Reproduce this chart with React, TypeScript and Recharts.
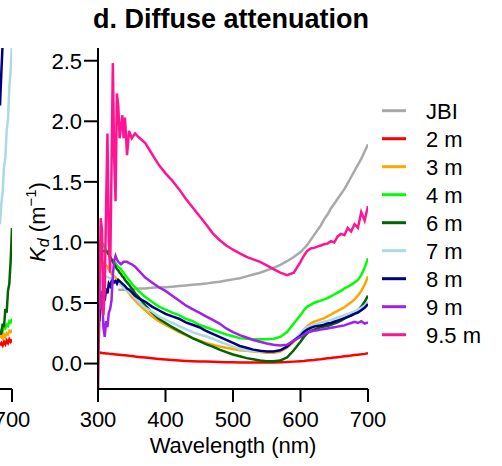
import { LineChart, Line, XAxis, YAxis } from "recharts";

const FONT = "'Liberation Sans', Arial, Helvetica, sans-serif";

// wavelength grid (nm): dense where the 9.5 m profile is noisy
const WAVELENGTH = [
  300, 302, 304, 306, 308, 310, 312, 314, 316, 318, 320, 322, 324, 326, 328, 330, 332, 334, 336, 338, 340,
  343, 346, 350, 355, 360,
  370, 380, 390, 400, 410, 420, 430, 440, 450, 460, 470, 480, 490, 500, 510, 520, 530, 540, 550, 560, 570, 580, 590,
  600, 605, 610, 615, 620, 625, 630, 635, 640, 645, 650, 655, 660, 665, 670, 675, 680, 685, 690, 695, 700,
];

const KD_JBI = [
  null, null, null, null, null, null, null, null, null, null, null, null, null, null, null, 0.61, 0.61, 0.61, 0.61, 0.61, 0.61,
  0.61, 0.61, 0.615, 0.615, 0.62,
  0.62, 0.625, 0.63, 0.63, 0.635, 0.64, 0.645, 0.65, 0.655, 0.66, 0.67, 0.675, 0.685, 0.695, 0.705, 0.72, 0.735, 0.75, 0.77, 0.79, 0.815, 0.845, 0.88,
  0.92, 0.95, 0.98, 1.02, 1.06, 1.1, 1.14, 1.19, 1.23, 1.28, 1.32, 1.36, 1.4, 1.44, 1.49, 1.54, 1.59, 1.64, 1.69, 1.75, 1.81,
];
const KD_2M = [
  null, 0.085, 0.09, 0.088, 0.086, 0.085, 0.084, 0.083, 0.082, 0.08, 0.079, 0.078, 0.077, 0.075, 0.074, 0.073, 0.072, 0.071, 0.07, 0.069, 0.068,
  0.066, 0.064, 0.062, 0.058, 0.055,
  0.05, 0.044, 0.038, 0.033, 0.029, 0.025, 0.022, 0.02, 0.018, 0.016, 0.014, 0.012, 0.011, 0.01, 0.009, 0.008, 0.008, 0.008, 0.008, 0.009, 0.01, 0.012, 0.016,
  0.02, 0.022, 0.025, 0.028, 0.03, 0.033, 0.036, 0.04, 0.043, 0.046, 0.05, 0.053, 0.056, 0.06, 0.063, 0.066, 0.07, 0.073, 0.076, 0.08, 0.085,
];
const KD_3M = [
  null, 0.72, 0.8, 0.84, 0.83, 0.82, 0.81, 0.8, 0.78, 0.76, 0.74, 0.73, 0.72, 0.71, 0.69, 0.68, 0.67, 0.66, 0.64, 0.63, 0.62,
  0.6, 0.58, 0.55, 0.52, 0.49,
  0.44, 0.39, 0.35, 0.32, 0.29, 0.26, 0.235, 0.21, 0.19, 0.17, 0.155, 0.14, 0.13, 0.12, 0.11, 0.105, 0.1, 0.095, 0.09, 0.09, 0.1, 0.13, 0.18,
  0.24, 0.28, 0.31, 0.33, 0.345, 0.355, 0.365, 0.375, 0.39, 0.405, 0.42, 0.435, 0.45, 0.465, 0.485, 0.505, 0.53, 0.56, 0.6, 0.65, 0.72,
];
const KD_4M = [
  0.97, 1.01, 1.01, 1.0, 0.98, 0.96, 0.94, 0.92, 0.9, 0.88, 0.86, 0.85, 0.84, 0.83, 0.81, 0.8, 0.79, 0.78, 0.76, 0.75, 0.73,
  0.71, 0.69, 0.66, 0.63, 0.6,
  0.55, 0.51, 0.47, 0.445, 0.42, 0.4, 0.37, 0.35, 0.32, 0.3, 0.28, 0.26, 0.24, 0.225, 0.21, 0.205, 0.2, 0.2, 0.2, 0.205, 0.22, 0.26, 0.33,
  0.4, 0.44, 0.47, 0.485, 0.5, 0.51, 0.52, 0.53, 0.54, 0.555, 0.57, 0.585, 0.6, 0.62, 0.635, 0.65, 0.67, 0.69, 0.73, 0.79, 0.87,
];
const KD_6M = [
  0.8, 0.88, 0.91, 0.92, 0.93, 0.93, 0.93, 0.92, 0.9, 0.88, 0.86, 0.84, 0.82, 0.8, 0.78, 0.77, 0.75, 0.74, 0.72, 0.71, 0.69,
  0.67, 0.65, 0.62, 0.58, 0.55,
  0.48, 0.42, 0.37, 0.335, 0.3, 0.27, 0.24, 0.21, 0.185, 0.16, 0.14, 0.115, 0.095, 0.075, 0.06, 0.045, 0.035, 0.025, 0.02, 0.02, 0.025, 0.05, 0.11,
  0.18, 0.22, 0.25, 0.27, 0.28, 0.29, 0.3, 0.305, 0.31, 0.32, 0.33, 0.34, 0.355, 0.37, 0.385, 0.4, 0.42, 0.44, 0.47, 0.51, 0.56,
];
const KD_7M = [
  0.12, 0.3, 0.55, 0.7, 0.73, 0.73, 0.72, 0.715, 0.71, 0.705, 0.7, 0.69, 0.685, 0.68, 0.67, 0.665, 0.655, 0.65, 0.64, 0.63, 0.62,
  0.605, 0.59, 0.57, 0.54, 0.51,
  0.46, 0.43, 0.39, 0.36, 0.335, 0.31, 0.285, 0.26, 0.24, 0.225, 0.205, 0.18, 0.16, 0.14, 0.12, 0.11, 0.105, 0.1, 0.1, 0.1, 0.11, 0.14, 0.19,
  0.25, 0.28, 0.3, 0.31, 0.32, 0.33, 0.34, 0.345, 0.35, 0.36, 0.37, 0.38, 0.39, 0.4, 0.41, 0.42, 0.43, 0.445, 0.46, 0.48, 0.51,
];
const KD_8M = [
  null, 0.35, 0.5, 0.45, 0.58, 0.52, 0.62, 0.58, 0.66, 0.64, 0.68, 0.69, 0.67, 0.68, 0.66, 0.69, 0.68, 0.67, 0.66, 0.65, 0.64,
  0.62, 0.61, 0.59, 0.56, 0.54,
  0.51, 0.47, 0.44, 0.41, 0.39, 0.37, 0.34, 0.32, 0.3, 0.27, 0.245, 0.22, 0.195, 0.17, 0.145, 0.13, 0.115, 0.105, 0.1, 0.1, 0.11, 0.14, 0.19,
  0.23, 0.26, 0.28, 0.295, 0.305, 0.31, 0.315, 0.32, 0.33, 0.335, 0.345, 0.355, 0.365, 0.375, 0.385, 0.395, 0.41, 0.42, 0.44, 0.46, 0.49,
];
const KD_9M = [
  0.65, 0.6, 0.45, 0.6, 0.3, 0.22, 0.35, 0.3, 0.42, 0.45, 0.52, 0.73, 0.85, 0.89, 0.86, 0.84, 0.83, 0.82, 0.83, 0.84, 0.84,
  0.84, 0.83, 0.82, 0.8, 0.77,
  0.71, 0.67, 0.63, 0.6, 0.56, 0.52, 0.48, 0.45, 0.42, 0.39, 0.36, 0.33, 0.29, 0.26, 0.235, 0.215, 0.195, 0.18, 0.165, 0.155, 0.15, 0.155, 0.19,
  0.22, 0.24, 0.255, 0.265, 0.27, 0.275, 0.28, 0.285, 0.29, 0.295, 0.3, 0.305, 0.31, 0.315, 0.325, 0.335, 0.345, 0.335, 0.35, 0.33, 0.34,
];
const KD_95M = [
  -0.25, 0.5, 1.2, 1.1, 0.4, 0.6, 1.3, 1.9, 1.0, 0.75, 1.6, 2.48, 1.7, 1.34, 2.23, 2.13, 1.86, 1.95, 2.05, 1.86, 2.03,
  1.72, 1.92, 1.86, 1.9, 1.87,
  1.82, 1.73, 1.64, 1.57, 1.51, 1.44, 1.36, 1.29, 1.22, 1.15, 1.075, 1.02, 0.975, 0.94, 0.91, 0.88, 0.86, 0.84, 0.81, 0.78, 0.75, 0.73, 0.75,
  0.84, 0.89, 0.93, 0.95, 0.955, 0.965, 0.975, 0.985, 0.99, 1.01, 1.0, 1.05, 1.07, 1.06, 1.12, 1.09, 1.15, 1.12, 1.25, 1.18, 1.3,
];

// right edge of the neighbouring panel (c), only its last few nm are in view
const PANEL_C_WAVELENGTH = [682, 684, 686, 688, 690, 692, 694, 696, 698, 700];
const PANEL_C_2M = [0.15, 0.17, 0.15, 0.18, 0.16, 0.19, 0.17, 0.2, 0.18, 0.2];
const PANEL_C_3M = [0.21, 0.23, 0.21, 0.24, 0.22, 0.25, 0.24, 0.27, 0.26, 0.28];
const PANEL_C_4M = [0.26, 0.28, 0.27, 0.3, 0.29, 0.32, 0.31, 0.35, 0.34, 0.37];
const PANEL_C_6M = [0.27, 0.24, 0.33, 0.3, 0.45, 0.42, 0.6, 0.66, 0.85, 1.12];
const PANEL_C_7M = [1.15, 1.32, 1.42, 1.62, 1.7, 1.92, 2.02, 2.28, 2.42, 2.65];
const PANEL_C_8M = [2.13, 2.4, 2.65, 2.8, 3.0, 3.1, 3.2, 3.3, 3.4, 3.5];

const X_TICKS = [300, 400, 500, 600, 700];
const Y_TICKS = [0, 0.5, 1, 1.5, 2, 2.5];
const Y_DOMAIN = [-0.21, 2.605];

const SERIES = [
  { key: "jbi", name: "JBI", color: "#a9a9a9", values: KD_JBI },
  { key: "m2", name: "2 m", color: "#ff0000", values: KD_2M },
  { key: "m3", name: "3 m", color: "#ffa500", values: KD_3M },
  { key: "m4", name: "4 m", color: "#00ff00", values: KD_4M },
  { key: "m6", name: "6 m", color: "#006400", values: KD_6M },
  { key: "m7", name: "7 m", color: "#add8e6", values: KD_7M },
  { key: "m8", name: "8 m", color: "#000080", values: KD_8M },
  { key: "m9", name: "9 m", color: "#a020f0", values: KD_9M },
  { key: "m95", name: "9.5 m", color: "#ff1493", values: KD_95M },
];

const PANEL_C_SERIES = [
  { key: "m2", color: "#ff0000", values: PANEL_C_2M },
  { key: "m3", color: "#ffa500", values: PANEL_C_3M },
  { key: "m4", color: "#00ff00", values: PANEL_C_4M },
  { key: "m6", color: "#006400", values: PANEL_C_6M },
  { key: "m7", color: "#add8e6", values: PANEL_C_7M },
  { key: "m8", color: "#000080", values: PANEL_C_8M },
];

const rows = WAVELENGTH.map((wl, i) => {
  const row: Record<string, number | null> = { wl };
  SERIES.forEach((s) => (row[s.key] = s.values[i]));
  return row;
});

const panelRows = PANEL_C_WAVELENGTH.map((wl, i) => {
  const row: Record<string, number | null> = { wl };
  PANEL_C_SERIES.forEach((s) => (row[s.key] = s.values[i]));
  return row;
});

const axisStroke = { stroke: "#000", strokeWidth: 2 };
const tickStyle = { fontSize: 22, fill: "#000", fontFamily: FONT };

export default function App() {
  return (
    <div style={{ position: "absolute", left: 0, top: 0, width: 502, height: 466, background: "#fff", overflow: "hidden", fontFamily: FONT }}>
      {/* neighbouring panel, cut off at the left edge */}
      <div style={{ position: "absolute", left: 0, top: 0 }}>
        <LineChart width={40} height={466} data={panelRows} margin={{ top: 48, right: 28, bottom: 47, left: 0 }}>
          <XAxis dataKey="wl" type="number" domain={[682, 700]} ticks={[700]} interval={0} allowDataOverflow
            height={30} tickSize={13} tickMargin={9} axisLine={axisStroke} tickLine={axisStroke} tick={tickStyle} />
          <XAxis xAxisId="top" dataKey="wl" type="number" domain={[682, 700]} orientation="top" height={0}
            tick={false} tickLine={false} axisLine={axisStroke} />
          <YAxis type="number" domain={Y_DOMAIN} allowDataOverflow hide />
          <YAxis yAxisId="right" orientation="right" width={0} type="number" domain={Y_DOMAIN}
            tick={false} tickLine={false} axisLine={axisStroke} />
          {PANEL_C_SERIES.map((s) => (
            <Line key={s.key} dataKey={s.key} stroke={s.color} strokeWidth={2.5} dot={false}
              type="linear" isAnimationActive={false} />
          ))}
        </LineChart>
      </div>

      {/* panel d */}
      <div style={{ position: "absolute", left: 0, top: 0 }}>
        <LineChart width={502} height={466} data={rows} margin={{ top: 48, right: 134, bottom: 47, left: 38 }}>
          <XAxis dataKey="wl" type="number" domain={[300, 700]} ticks={X_TICKS} interval={0} allowDataOverflow
            height={30} tickSize={13} tickMargin={9} axisLine={axisStroke} tickLine={axisStroke} tick={tickStyle} />
          <XAxis xAxisId="top" dataKey="wl" type="number" domain={[300, 700]} orientation="top" height={0}
            tick={false} tickLine={false} axisLine={axisStroke} />
          <YAxis type="number" domain={Y_DOMAIN} ticks={Y_TICKS} interval={0} allowDataOverflow width={60}
            tickSize={14} tickMargin={2} axisLine={axisStroke} tickLine={axisStroke} tick={tickStyle}
            tickFormatter={(v: number) => v.toFixed(1)} />
          <YAxis yAxisId="right" orientation="right" width={0} type="number" domain={Y_DOMAIN}
            tick={false} tickLine={false} axisLine={axisStroke} />
          {SERIES.map((s) => (
            <Line key={s.key} dataKey={s.key} name={s.name} stroke={s.color} strokeWidth={2.5} dot={false}
              type="linear" isAnimationActive={false} />
          ))}
        </LineChart>
      </div>

      {/* title, axis titles and legend */}
      <svg width={502} height={466} style={{ position: "absolute", left: 0, top: 0, pointerEvents: "none" }}>
        <text x={231} y={28} textAnchor="middle" fontSize={27} fontWeight="bold" fontFamily={FONT} fill="#000">
          d. Diffuse attenuation
        </text>
        <text x={233} y={453} textAnchor="middle" fontSize={22} fontFamily={FONT} fill="#000">
          Wavelength (nm)
        </text>
        <text transform="translate(45,222) rotate(-90)" textAnchor="middle" fontSize={22} fontFamily={FONT} fill="#000">
          <tspan fontStyle="italic">K</tspan>
          <tspan fontStyle="italic" fontSize={16} dy={4}>d</tspan>
          <tspan dy={-4}> (m</tspan>
          <tspan fontSize={15} dy={-9}>−1</tspan>
          <tspan dy={9}>)</tspan>
        </text>
        {SERIES.map((s, i) => {
          const cy = 110.7 + i * 28;
          return (
            <g key={s.key}>
              <line x1={382} x2={406} y1={cy} y2={cy} stroke={s.color} strokeWidth={3} />
              <text x={426} y={cy + 8} fontSize={22} fontFamily={FONT} fill="#000">{s.name}</text>
            </g>
          );
        })}
      </svg>
    </div>
  );
}
